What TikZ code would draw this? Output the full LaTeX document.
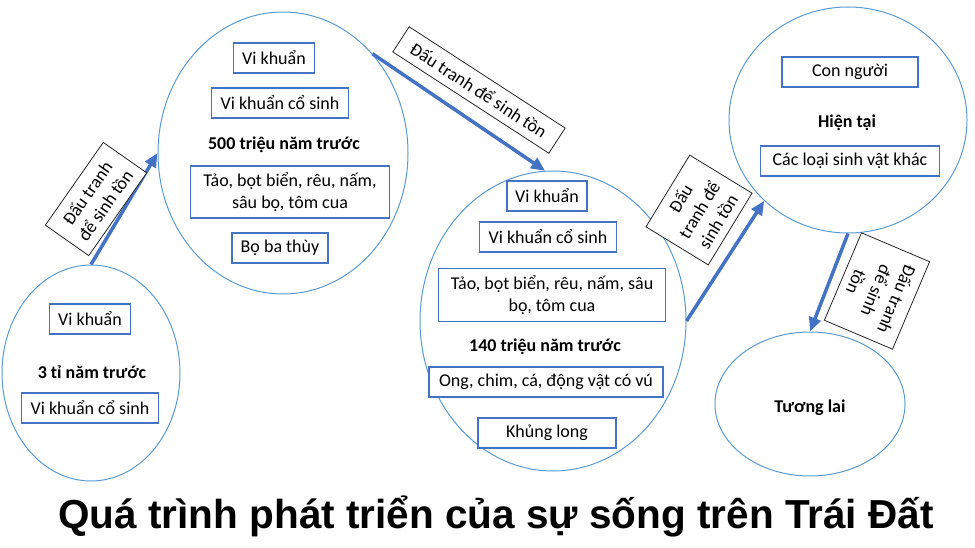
\documentclass[tikz,border=0pt]{standalone}
\usepackage{fontspec}
\setmainfont{Carlito}
\newfontfamily\titlefont{Liberation Sans}
\usetikzlibrary{shapes.geometric, arrows.meta}
\definecolor{ringblue}{HTML}{5B9BD5}
\definecolor{boxblue}{HTML}{4472C4}

\begin{document}
\begin{tikzpicture}[x=1pt, y=-1pt,
    font=\fontsize{18}{22}\selectfont,
    era/.style={draw=ringblue, line width=1pt, ellipse, inner sep=0pt},
    item/.style={draw=boxblue, line width=1.2pt, fill=white, minimum height=30pt, inner sep=2pt, align=center},
    epoch/.style={font=\fontsize{18}{22}\selectfont\bfseries},
    tag/.style={draw=black!85, line width=0.8pt, fill=white, align=center, inner sep=1pt},
    advance/.style={draw=boxblue, line width=3.5pt, -{Triangle[length=14pt, width=12pt]}}
  ]
  \useasboundingbox (0,0) rectangle (975,548);

  % the five ages
  \node[era, minimum width=178pt, minimum height=216pt] (e1) at (91,373) {};
  \node[era, minimum width=250pt, minimum height=282pt] (e2) at (283,153) {};
  \node[era, minimum width=266pt, minimum height=300pt] (e3) at (553,321) {};
  \node[era, minimum width=238pt, minimum height=226pt] (e4) at (848,120) {};
  \node[era, minimum width=190pt, minimum height=144pt] (e5) at (810,404) {};

  % 3 ti nam truoc
  \node[item, minimum width=81pt] (b11) at (90,319) {Vi khuẩn};
  \node[epoch] (t1) at (92,372) {3 tỉ năm trước};
  \node[item, minimum width=137pt] (b12) at (90,408) {Vi khuẩn cổ sinh};

  % 500 trieu nam truoc
  \node[item, minimum width=81pt] (b21) at (274,58) {Vi khuẩn};
  \node[item, minimum width=137pt] (b22) at (280,103) {Vi khuẩn cổ sinh};
  \node[epoch] (t2) at (284,145) {500 triệu năm trước};
  \node[item, minimum width=199pt, minimum height=52pt] (b23) at (290,192) {Tảo, bọt biển, rêu, nấm,\\sâu bọ, tôm cua};
  \node[item, minimum width=96pt] (b24) at (280,248) {Bọ ba thùy};

  % 140 trieu nam truoc
  \node[item, minimum width=80pt] (b31) at (547,196) {Vi khuẩn};
  \node[item, minimum width=137pt] (b32) at (548,237) {Vi khuẩn cổ sinh};
  \node[item, minimum width=227pt, minimum height=53pt] (b33) at (552,295) {Tảo, bọt biển, rêu, nấm, sâu\\bọ, tôm cua};
  \node[epoch] (t3) at (545,347) {140 triệu năm trước};
  \node[item, minimum width=234pt] (b34) at (546,382) {Ong, chim, cá, động vật có vú};
  \node[item, minimum width=138pt] (b35) at (547,433) {Khủng long};

  % hien tai
  \node[item, minimum width=136pt] (b41) at (850,72) {Con người};
  \node[epoch] (t4) at (847,123) {Hiện tại};
  \node[item, minimum width=179pt] (b42) at (850,161) {Các loại sinh vật khác};

  % tuong lai
  \node[epoch] (t5) at (810,408) {Tương lai};

  % arrows between the ages
  \draw[advance] (e1.north) -- (e2.west);
  \draw[advance] (e2.48) -- (e3.93);
  \draw[advance] (e3.east) -- (e4.224);
  \draw[advance] (e4.south) -- (e5.north);

  \node[tag, rotate=55, minimum width=101pt, minimum height=53pt] (l1) at (96,199) {Đấu tranh\\để sinh tồn};
  \node[tag, rotate=-33, minimum width=186pt, minimum height=30pt] (l2) at (479,90) {Đấu tranh để sinh tồn};
  \node[tag, rotate=58.6, minimum width=84pt, minimum height=73pt] (l3) at (699,210) {Đấu\\tranh để\\sinh tồn};
  \node[tag, rotate=-113, minimum width=95pt, minimum height=74pt] (l4) at (877,291) {Đấu tranh\\để sinh\\tồn};

  \node[anchor=base, font=\titlefont\fontsize{40.5}{44}\selectfont\bfseries] (title) at (496,528)
    {Quá trình phát triển của sự sống trên Trái Đất};
\end{tikzpicture}
\end{document}
